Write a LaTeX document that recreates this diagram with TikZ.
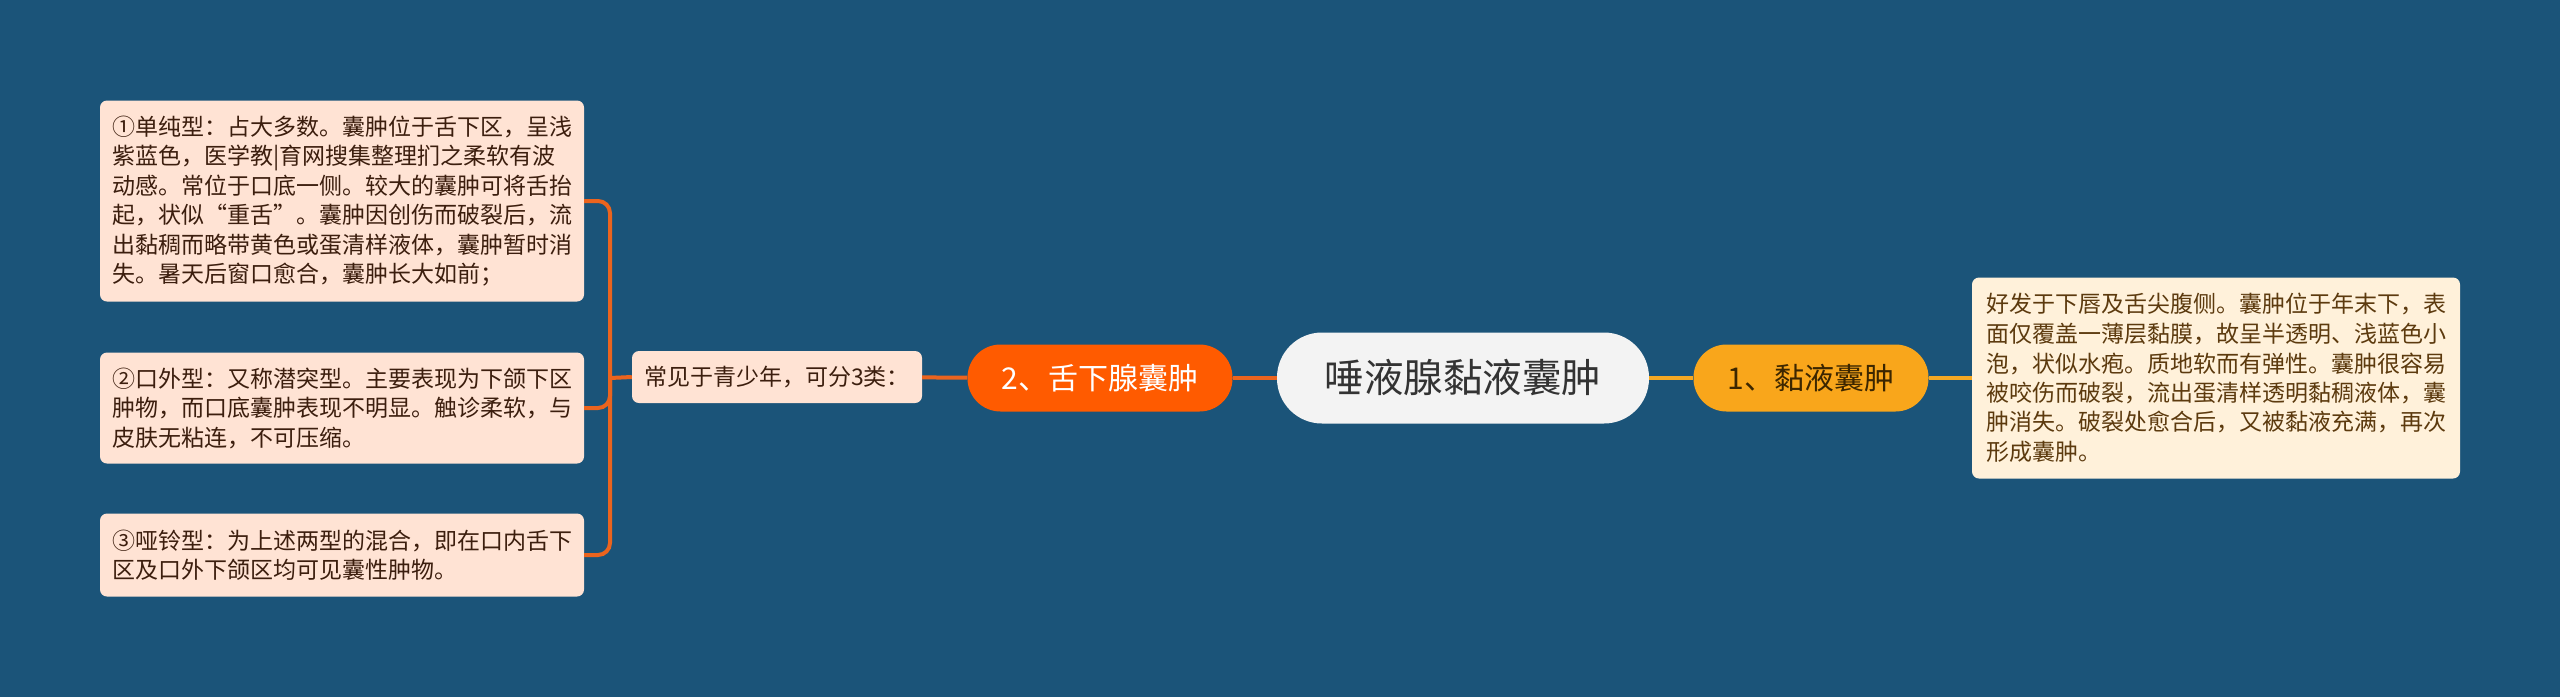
\documentclass[tikz,border=0pt]{standalone}
\usepackage{fontspec}
\setmainfont{Noto Sans CJK SC}
\definecolor{bgblue}{RGB}{27,84,121}
\definecolor{peach}{RGB}{255,227,212}
\definecolor{cream}{RGB}{255,241,218}
\definecolor{redorange}{RGB}{255,91,0}
\definecolor{amber}{RGB}{249,166,27}
\definecolor{leftwire}{RGB}{235,100,30}
\definecolor{rightwire}{RGB}{245,168,35}
\definecolor{rootgray}{RGB}{243,243,243}
\begin{document}
\begin{tikzpicture}[x=1pt,y=-1pt]
    \tikzset{root/.style={rectangle, fill=rootgray, text=black!80, rounded corners=45pt, minimum width=372pt, minimum height=91pt, font=\fontsize{39.5}{44}\selectfont}}
    \tikzset{topic/.style={rectangle, rounded corners=33pt, minimum height=67pt, font=\fontsize{30}{34}\selectfont}}
    \tikzset{note/.style={rectangle, rounded corners=7pt, align=left, inner xsep=12pt, inner ysep=8pt, font=\fontsize{23}{29.5}\selectfont}}
    \tikzset{leftline/.style={draw=leftwire, line width=4pt}}
    \tikzset{rightline/.style={draw=rightwire, line width=4pt}}
    \fill[bgblue] (0,0) rectangle (2560,697);
    \useasboundingbox (0,0) rectangle (2560,697);

    \node[root] (root) at (1463,378) {唾液腺黏液囊肿};

    \node[topic, fill=amber, text={rgb,255:red,60;green,38;blue,0}, minimum width=235pt] (mucous) at (1811,378) {1、黏液囊肿};
    \node[note, fill=cream, text={rgb,255:red,92;green,58;blue,14}, minimum width=488pt, minimum height=201pt] (mucousinfo) at (2216,378) {好发于下唇及舌尖腹侧。囊肿位于年末下，表\\面仅覆盖一薄层黏膜，故呈半透明、浅蓝色小\\泡，状似水疱。质地软而有弹性。囊肿很容易\\被咬伤而破裂，流出蛋清样透明黏稠液体，囊\\肿消失。破裂处愈合后，又被黏液充满，再次\\形成囊肿。};

    \node[topic, fill=redorange, text=white, minimum width=265pt] (sublingual) at (1100,378) {2、舌下腺囊肿};
    \node[note, fill=peach, text={rgb,255:red,60;green,30;blue,14}, minimum width=290pt, minimum height=52pt, inner ysep=4pt] (youth) at (777,377) {常见于青少年，可分3类：};

    \node[note, fill=peach, text={rgb,255:red,60;green,30;blue,14}, minimum width=484pt, minimum height=201pt] (simple) at (342,201) {①单纯型：占大多数。囊肿位于舌下区，呈浅\\紫蓝色，医学教|育网搜集整理扪之柔软有波\\动感。常位于口底一侧。较大的囊肿可将舌抬\\起，状似“重舌”。囊肿因创伤而破裂后，流\\出黏稠而略带黄色或蛋清样液体，囊肿暂时消\\失。暑天后窗口愈合，囊肿长大如前；};
    \node[note, fill=peach, text={rgb,255:red,60;green,30;blue,14}, minimum width=484pt, minimum height=111pt] (external) at (342,408) {②口外型：又称潜突型。主要表现为下颌下区\\肿物，而口底囊肿表现不明显。触诊柔软，与\\皮肤无粘连，不可压缩。};
    \node[note, fill=peach, text={rgb,255:red,60;green,30;blue,14}, minimum width=484pt, minimum height=83pt] (dumbbell) at (342,555) {③哑铃型：为上述两型的混合，即在口内舌下\\区及口外下颌区均可见囊性肿物。};

    \coordinate (fork) at (610,378);

    \draw[rightline] (root) -- (mucous);
    \draw[rightline] (mucous) -- (mucousinfo);
    \draw[leftline] (root) -- (sublingual);
    \draw[leftline] (sublingual) -- (youth);
    \draw[leftline] (youth.west) -- (fork);
    \draw[leftline, rounded corners=12pt] (fork) |- (simple.east);
    \draw[leftline, rounded corners=12pt] (fork) |- (external.east);
    \draw[leftline, rounded corners=12pt] (fork) |- (dumbbell.east);
  \end{tikzpicture}
\end{document}
